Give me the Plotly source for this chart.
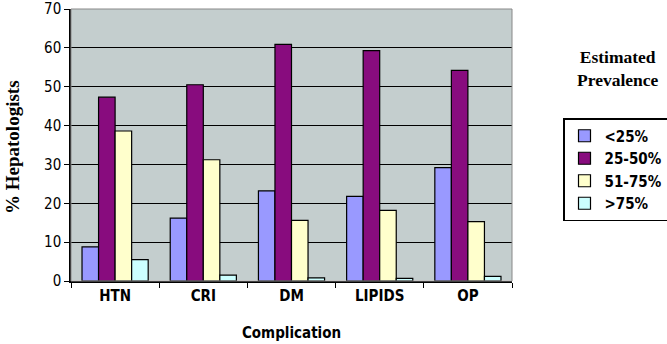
import plotly.graph_objects as go

categories = ["HTN", "CRI", "DM", "LIPIDS", "OP"]
series_names = ["<25%", "25-50%", "51-75%", ">75%"]
lt25 = [8.8, 16.2, 23.2, 21.8, 29.2]
p25_50 = [47.3, 50.5, 60.9, 59.3, 54.2]
p51_75 = [38.6, 31.2, 15.6, 18.2, 15.3]
gt75 = [5.5, 1.5, 0.8, 0.7, 1.2]
colors = ["#9999FF", "#880C7E", "#FFFFCC", "#CCFFFF"]
y_ticks = [0, 10, 20, 30, 40, 50, 60, 70]

narrow = "DejaVu Sans Condensed, Liberation Sans Narrow, Arial Narrow, sans-serif"
serif = "Liberation Serif, Times New Roman, serif"

fig = go.Figure()
for name, vals, c in zip(series_names, [lt25, p25_50, p51_75, gt75], colors):
    fig.add_trace(go.Bar(x=categories, y=vals, name="<b>" + name.replace("<", "&lt;").replace(">", "&gt;") + "</b>",
                         marker_color=c, marker_line_color="black", marker_line_width=1.2))

fig.update_layout(
    width=667, height=344,
    margin=dict(l=71, r=155, t=9, b=63, autoexpand=False),
    paper_bgcolor="white", plot_bgcolor="#C4CECE",
    barmode="group", bargap=0.25, bargroupgap=0,
    showlegend=True,
    legend=dict(xref="container", yref="container", x=563 / 667, y=1 - 118 / 344,
                xanchor="left", yanchor="top",
                bordercolor="black", borderwidth=1.5, bgcolor="white",
                font=dict(family=narrow, size=15, color="black"),
                itemwidth=30, tracegroupgap=0),
    xaxis=dict(showline=True, linecolor="black", linewidth=1.5,
               ticks="outside", tickcolor="black", ticklen=5,
               tickson="boundaries",
               tickfont=dict(family=narrow, size=15, color="black"),
               title=dict(text="<b>Complication</b>", standoff=24,
                          font=dict(family=narrow, size=15, color="black"))),
    yaxis=dict(range=[0, 70], tickvals=y_ticks, showline=True, linecolor="black",
               linewidth=1.5, ticks="outside", tickcolor="black", ticklen=5,
               ticklabeloverflow="allow",
               showgrid=True, gridcolor="black", gridwidth=1.2,
               tickfont=dict(family=narrow, size=15, color="black")),
    shapes=[dict(type="rect", xref="paper", yref="paper", x0=0, y0=0, x1=1, y1=1,
                 line=dict(color="#888888", width=1), layer="above")],
    annotations=[
        dict(text="<b>Estimated<br>Prevalence</b>", xref="paper", yref="paper",
             x=(618 - 71) / 441, y=(281 - 68) / 272, showarrow=False,
             xanchor="center", yanchor="middle",
             font=dict(family=serif, size=17.5, color="black")),
        dict(text="<b>% Hepatologists</b>", xref="paper", yref="paper",
             x=(12 - 71) / 441, y=(281 - 147) / 272, showarrow=False, textangle=-90,
             xanchor="center", yanchor="middle",
             font=dict(family=serif, size=19, color="black")),
    ],
)
fig.update_xaxes(tickprefix="<b>", ticksuffix="</b>")
fig.update_yaxes(tickprefix="<b>", ticksuffix="</b>")
fig.write_html("out.html")
